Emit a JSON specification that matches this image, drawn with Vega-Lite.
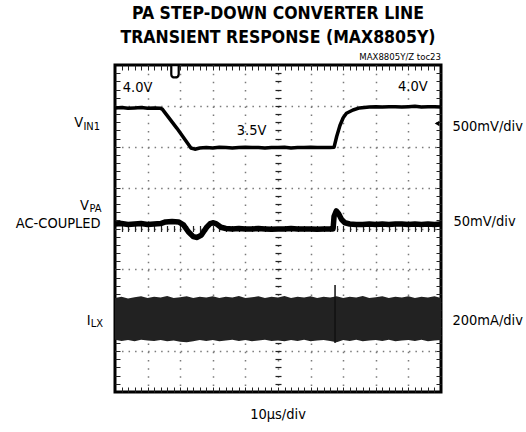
{
  "$schema": "https://vega.github.io/schema/vega-lite/v6.json",
  "width": 326,
  "height": 327,
  "autosize": "none",
  "padding": {"left": 115, "top": 65, "right": 85, "bottom": 40},
  "background": "white",
  "title": {
    "text": ["PA STEP-DOWN CONVERTER LINE", "TRANSIENT RESPONSE (MAX8805Y)"],
    "font": "DejaVu Sans Condensed, sans-serif",
    "fontSize": 17.5,
    "fontWeight": "bold",
    "lineHeight": 24,
    "anchor": "middle",
    "color": "black",
    "offset": 6
  },
  "config": {
    "view": {"stroke": "black", "strokeWidth": 3},
    "axis": {"domain": false, "labels": false, "title": null},
    "text": {"font": "DejaVu Sans Condensed, sans-serif", "color": "black"}
  },
  "datasets": {
    "traces": [
      {"trace": "VIN1", "time": 0.00, "level": 6.95},
      {"trace": "VIN1", "time": 0.20, "level": 6.96},
      {"trace": "VIN1", "time": 0.40, "level": 6.94},
      {"trace": "VIN1", "time": 0.60, "level": 6.95},
      {"trace": "VIN1", "time": 0.80, "level": 6.96},
      {"trace": "VIN1", "time": 1.00, "level": 6.94},
      {"trace": "VIN1", "time": 1.20, "level": 6.95},
      {"trace": "VIN1", "time": 1.40, "level": 6.94},
      {"trace": "VIN1", "time": 1.45, "level": 6.92},
      {"trace": "VIN1", "time": 1.90, "level": 6.45},
      {"trace": "VIN1", "time": 2.33, "level": 5.97},
      {"trace": "VIN1", "time": 2.45, "level": 5.94},
      {"trace": "VIN1", "time": 2.60, "level": 5.97},
      {"trace": "VIN1", "time": 2.80, "level": 5.98},
      {"trace": "VIN1", "time": 3.00, "level": 5.97},
      {"trace": "VIN1", "time": 3.20, "level": 5.99},
      {"trace": "VIN1", "time": 3.40, "level": 5.98},
      {"trace": "VIN1", "time": 3.60, "level": 5.97},
      {"trace": "VIN1", "time": 3.80, "level": 5.98},
      {"trace": "VIN1", "time": 4.00, "level": 5.99},
      {"trace": "VIN1", "time": 4.20, "level": 5.98},
      {"trace": "VIN1", "time": 4.40, "level": 5.98},
      {"trace": "VIN1", "time": 4.60, "level": 5.97},
      {"trace": "VIN1", "time": 4.80, "level": 5.98},
      {"trace": "VIN1", "time": 5.00, "level": 5.98},
      {"trace": "VIN1", "time": 5.20, "level": 5.99},
      {"trace": "VIN1", "time": 5.40, "level": 5.97},
      {"trace": "VIN1", "time": 5.60, "level": 5.98},
      {"trace": "VIN1", "time": 5.80, "level": 5.98},
      {"trace": "VIN1", "time": 6.00, "level": 5.99},
      {"trace": "VIN1", "time": 6.20, "level": 5.98},
      {"trace": "VIN1", "time": 6.40, "level": 5.98},
      {"trace": "VIN1", "time": 6.60, "level": 5.98},
      {"trace": "VIN1", "time": 6.72, "level": 5.99},
      {"trace": "VIN1", "time": 6.80, "level": 6.25},
      {"trace": "VIN1", "time": 6.90, "level": 6.52},
      {"trace": "VIN1", "time": 7.00, "level": 6.71},
      {"trace": "VIN1", "time": 7.10, "level": 6.82},
      {"trace": "VIN1", "time": 7.30, "level": 6.90},
      {"trace": "VIN1", "time": 7.50, "level": 6.95},
      {"trace": "VIN1", "time": 7.80, "level": 6.97},
      {"trace": "VIN1", "time": 8.00, "level": 6.98},
      {"trace": "VIN1", "time": 8.20, "level": 6.97},
      {"trace": "VIN1", "time": 8.40, "level": 6.98},
      {"trace": "VIN1", "time": 8.60, "level": 6.98},
      {"trace": "VIN1", "time": 8.80, "level": 6.97},
      {"trace": "VIN1", "time": 9.00, "level": 6.98},
      {"trace": "VIN1", "time": 9.20, "level": 6.99},
      {"trace": "VIN1", "time": 9.40, "level": 6.97},
      {"trace": "VIN1", "time": 9.60, "level": 6.98},
      {"trace": "VIN1", "time": 9.80, "level": 6.98},
      {"trace": "VIN1", "time": 10.00, "level": 6.97},
      {"trace": "VPA", "time": 0.00, "level": 4.11},
      {"trace": "VPA", "time": 0.20, "level": 4.12},
      {"trace": "VPA", "time": 0.40, "level": 4.10},
      {"trace": "VPA", "time": 0.60, "level": 4.11},
      {"trace": "VPA", "time": 0.80, "level": 4.12},
      {"trace": "VPA", "time": 1.00, "level": 4.10},
      {"trace": "VPA", "time": 1.20, "level": 4.11},
      {"trace": "VPA", "time": 1.40, "level": 4.12},
      {"trace": "VPA", "time": 1.55, "level": 4.16},
      {"trace": "VPA", "time": 1.75, "level": 4.17},
      {"trace": "VPA", "time": 1.95, "level": 4.16},
      {"trace": "VPA", "time": 2.10, "level": 4.09},
      {"trace": "VPA", "time": 2.25, "level": 3.92},
      {"trace": "VPA", "time": 2.40, "level": 3.80},
      {"trace": "VPA", "time": 2.52, "level": 3.78},
      {"trace": "VPA", "time": 2.65, "level": 3.84},
      {"trace": "VPA", "time": 2.80, "level": 4.02},
      {"trace": "VPA", "time": 2.92, "level": 4.12},
      {"trace": "VPA", "time": 3.00, "level": 4.14},
      {"trace": "VPA", "time": 3.10, "level": 4.12},
      {"trace": "VPA", "time": 3.25, "level": 4.03},
      {"trace": "VPA", "time": 3.40, "level": 4.00},
      {"trace": "VPA", "time": 3.60, "level": 3.99},
      {"trace": "VPA", "time": 3.80, "level": 4.00},
      {"trace": "VPA", "time": 4.00, "level": 3.99},
      {"trace": "VPA", "time": 4.20, "level": 3.99},
      {"trace": "VPA", "time": 4.40, "level": 4.00},
      {"trace": "VPA", "time": 4.60, "level": 3.99},
      {"trace": "VPA", "time": 4.80, "level": 3.98},
      {"trace": "VPA", "time": 5.00, "level": 3.99},
      {"trace": "VPA", "time": 5.20, "level": 3.99},
      {"trace": "VPA", "time": 5.40, "level": 4.00},
      {"trace": "VPA", "time": 5.60, "level": 3.99},
      {"trace": "VPA", "time": 5.80, "level": 3.99},
      {"trace": "VPA", "time": 6.00, "level": 3.99},
      {"trace": "VPA", "time": 6.20, "level": 3.98},
      {"trace": "VPA", "time": 6.40, "level": 3.99},
      {"trace": "VPA", "time": 6.60, "level": 3.99},
      {"trace": "VPA", "time": 6.69, "level": 3.99},
      {"trace": "VPA", "time": 6.72, "level": 4.30},
      {"trace": "VPA", "time": 6.79, "level": 4.43},
      {"trace": "VPA", "time": 6.86, "level": 4.36},
      {"trace": "VPA", "time": 6.95, "level": 4.22},
      {"trace": "VPA", "time": 7.05, "level": 4.14},
      {"trace": "VPA", "time": 7.20, "level": 4.11},
      {"trace": "VPA", "time": 7.40, "level": 4.10},
      {"trace": "VPA", "time": 7.60, "level": 4.10},
      {"trace": "VPA", "time": 7.80, "level": 4.11},
      {"trace": "VPA", "time": 8.00, "level": 4.10},
      {"trace": "VPA", "time": 8.20, "level": 4.11},
      {"trace": "VPA", "time": 8.40, "level": 4.10},
      {"trace": "VPA", "time": 8.60, "level": 4.11},
      {"trace": "VPA", "time": 8.80, "level": 4.11},
      {"trace": "VPA", "time": 9.00, "level": 4.10},
      {"trace": "VPA", "time": 9.20, "level": 4.11},
      {"trace": "VPA", "time": 9.40, "level": 4.10},
      {"trace": "VPA", "time": 9.60, "level": 4.11},
      {"trace": "VPA", "time": 9.80, "level": 4.10},
      {"trace": "VPA", "time": 10.00, "level": 4.11}
    ],
    "ilx": [
      {"time": 0.0, "hi": 2.30, "lo": 1.28},
      {"time": 0.2, "hi": 2.33, "lo": 1.25},
      {"time": 0.4, "hi": 2.29, "lo": 1.27},
      {"time": 0.6, "hi": 2.32, "lo": 1.24},
      {"time": 0.8, "hi": 2.34, "lo": 1.28},
      {"time": 1.0, "hi": 2.30, "lo": 1.26},
      {"time": 1.2, "hi": 2.33, "lo": 1.25},
      {"time": 1.4, "hi": 2.31, "lo": 1.27},
      {"time": 1.6, "hi": 2.35, "lo": 1.24},
      {"time": 1.8, "hi": 2.30, "lo": 1.26},
      {"time": 2.0, "hi": 2.32, "lo": 1.23},
      {"time": 2.2, "hi": 2.34, "lo": 1.22},
      {"time": 2.4, "hi": 2.30, "lo": 1.24},
      {"time": 2.6, "hi": 2.33, "lo": 1.27},
      {"time": 2.8, "hi": 2.31, "lo": 1.25},
      {"time": 3.0, "hi": 2.34, "lo": 1.27},
      {"time": 3.2, "hi": 2.30, "lo": 1.24},
      {"time": 3.4, "hi": 2.33, "lo": 1.26},
      {"time": 3.6, "hi": 2.31, "lo": 1.28},
      {"time": 3.8, "hi": 2.35, "lo": 1.25},
      {"time": 4.0, "hi": 2.30, "lo": 1.27},
      {"time": 4.2, "hi": 2.32, "lo": 1.24},
      {"time": 4.4, "hi": 2.34, "lo": 1.26},
      {"time": 4.6, "hi": 2.30, "lo": 1.28},
      {"time": 4.8, "hi": 2.33, "lo": 1.25},
      {"time": 5.0, "hi": 2.31, "lo": 1.26},
      {"time": 5.2, "hi": 2.35, "lo": 1.24},
      {"time": 5.4, "hi": 2.30, "lo": 1.27},
      {"time": 5.6, "hi": 2.33, "lo": 1.25},
      {"time": 5.8, "hi": 2.31, "lo": 1.28},
      {"time": 6.0, "hi": 2.34, "lo": 1.24},
      {"time": 6.2, "hi": 2.30, "lo": 1.26},
      {"time": 6.4, "hi": 2.33, "lo": 1.27},
      {"time": 6.6, "hi": 2.31, "lo": 1.25},
      {"time": 6.8, "hi": 2.34, "lo": 1.22},
      {"time": 7.0, "hi": 2.30, "lo": 1.27},
      {"time": 7.2, "hi": 2.33, "lo": 1.25},
      {"time": 7.4, "hi": 2.31, "lo": 1.28},
      {"time": 7.6, "hi": 2.35, "lo": 1.24},
      {"time": 7.8, "hi": 2.30, "lo": 1.26},
      {"time": 8.0, "hi": 2.32, "lo": 1.27},
      {"time": 8.2, "hi": 2.34, "lo": 1.25},
      {"time": 8.4, "hi": 2.30, "lo": 1.28},
      {"time": 8.6, "hi": 2.33, "lo": 1.24},
      {"time": 8.8, "hi": 2.31, "lo": 1.26},
      {"time": 9.0, "hi": 2.34, "lo": 1.27},
      {"time": 9.2, "hi": 2.30, "lo": 1.25},
      {"time": 9.4, "hi": 2.33, "lo": 1.28},
      {"time": 9.6, "hi": 2.31, "lo": 1.24},
      {"time": 9.8, "hi": 2.34, "lo": 1.26},
      {"time": 10.0, "hi": 2.30, "lo": 1.27}
    ],
    "spikes": [
      {"time": 6.75, "hi": 2.62, "lo": 1.20}
    ],
    "labels": [
      {"kind": "left", "text": "V", "time": -0.98, "level": 6.49},
      {"kind": "left", "text": "V", "time": -0.80, "level": 4.46},
      {"kind": "left", "text": "AC-COUPLED", "time": -0.44, "level": 4.01},
      {"kind": "left", "text": "I", "time": -0.75, "level": 1.65},
      {"kind": "sub", "text": "IN1", "time": -0.46, "level": 6.42},
      {"kind": "sub", "text": "PA", "time": -0.41, "level": 4.41},
      {"kind": "sub", "text": "LX", "time": -0.37, "level": 1.58},
      {"kind": "right", "text": "500mV/div", "time": 10.35, "level": 6.39},
      {"kind": "right", "text": "50mV/div", "time": 10.38, "level": 4.07},
      {"kind": "right", "text": "200mA/div", "time": 10.35, "level": 1.65},
      {"kind": "right", "text": "4.0V", "time": 0.24, "level": 7.34},
      {"kind": "left", "text": "4.0V", "time": 9.59, "level": 7.36},
      {"kind": "center", "text": "3.5V", "time": 4.19, "level": 6.29},
      {"kind": "center", "text": "10µs/div", "time": 5.0, "level": -0.66},
      {"kind": "note", "text": "MAX8805Y/Z toc23", "time": 10.0, "level": 8.12}
    ],
    "markers": [
      {"kind": "trigger", "time": 1.84, "level": 7.84},
      {"kind": "ground", "time": 9.88, "level": 6.57}
    ]
  },
  "resolve": {"axis": {"x": "independent", "y": "independent"}},
  "layer": [
    {
      "data": {"name": "traces"},
      "transform": [{"filter": "datum.trace === 'VIN1'"}],
      "mark": {"type": "line", "color": "black", "strokeWidth": 3.5, "strokeJoin": "round"},
      "encoding": {
        "x": {"field": "time", "type": "quantitative", "scale": {"domain": [0, 10], "nice": false},
          "axis": {"orient": "bottom", "values": [1, 2, 3, 4, 5, 6, 7, 8, 9], "grid": true, "gridDash": [1.5, 6.68], "gridColor": "#7a7a7a", "gridWidth": 1.5, "ticks": false, "labels": false, "domain": false, "title": null}},
        "y": {"field": "level", "type": "quantitative", "scale": {"domain": [0, 8], "nice": false},
          "axis": {"orient": "left", "values": [1, 2, 3, 4, 5, 6, 7], "grid": true, "gridDash": [1.5, 5.02], "gridColor": "#7a7a7a", "gridWidth": 1.5, "ticks": false, "labels": false, "domain": false, "title": null}}
      }
    },
    {
      "data": {"name": "traces"},
      "transform": [{"filter": "datum.trace === 'VPA'"}],
      "mark": {"type": "line", "color": "black", "strokeWidth": 5.5, "strokeJoin": "round"},
      "encoding": {
        "x": {"field": "time", "type": "quantitative", "scale": {"domain": [0, 10], "nice": false},
          "axis": {"orient": "bottom", "values": [0.2, 0.4, 0.6, 0.8, 1.2, 1.4, 1.6, 1.8, 2.2, 2.4, 2.6, 2.8, 3.2, 3.4, 3.6, 3.8, 4.2, 4.4, 4.6, 4.8, 5.2, 5.4, 5.6, 5.8, 6.2, 6.4, 6.6, 6.8, 7.2, 7.4, 7.6, 7.8, 8.2, 8.4, 8.6, 8.8, 9.2, 9.4, 9.6, 9.8, 1, 2, 3, 4, 5, 6, 7, 8, 9], "tickSize": -5, "tickColor": "#222", "tickWidth": 1, "grid": false, "labels": false, "domain": false, "title": null}},
        "y": {"field": "level", "type": "quantitative", "scale": {"domain": [0, 8], "nice": false},
          "axis": {"orient": "left", "values": [0.2, 0.4, 0.6, 0.8, 1.2, 1.4, 1.6, 1.8, 2.2, 2.4, 2.6, 2.8, 3.2, 3.4, 3.6, 3.8, 4.2, 4.4, 4.6, 4.8, 5.2, 5.4, 5.6, 5.8, 6.2, 6.4, 6.6, 6.8, 7.2, 7.4, 7.6, 7.8, 1, 2, 3, 4, 5, 6, 7], "tickSize": -5, "tickColor": "#222", "tickWidth": 1, "grid": false, "labels": false, "domain": false, "title": null}}
      }
    },
    {
      "data": {"name": "ilx"},
      "mark": {"type": "area", "color": "#222222", "interpolate": "linear"},
      "encoding": {
        "x": {"field": "time", "type": "quantitative", "scale": {"domain": [0, 10], "nice": false},
          "axis": {"orient": "top", "values": [0.2, 0.4, 0.6, 0.8, 1.2, 1.4, 1.6, 1.8, 2.2, 2.4, 2.6, 2.8, 3.2, 3.4, 3.6, 3.8, 4.2, 4.4, 4.6, 4.8, 5.2, 5.4, 5.6, 5.8, 6.2, 6.4, 6.6, 6.8, 7.2, 7.4, 7.6, 7.8, 8.2, 8.4, 8.6, 8.8, 9.2, 9.4, 9.6, 9.8, 1, 2, 3, 4, 5, 6, 7, 8, 9], "tickSize": -5, "tickColor": "#222", "tickWidth": 1, "grid": false, "labels": false, "domain": false, "title": null}},
        "y": {"field": "hi", "type": "quantitative", "scale": {"domain": [0, 8], "nice": false},
          "axis": {"orient": "right", "values": [0.2, 0.4, 0.6, 0.8, 1.2, 1.4, 1.6, 1.8, 2.2, 2.4, 2.6, 2.8, 3.2, 3.4, 3.6, 3.8, 4.2, 4.4, 4.6, 4.8, 5.2, 5.4, 5.6, 5.8, 6.2, 6.4, 6.6, 6.8, 7.2, 7.4, 7.6, 7.8, 1, 2, 3, 4, 5, 6, 7], "tickSize": -5, "tickColor": "#222", "tickWidth": 1, "grid": false, "labels": false, "domain": false, "title": null}},
        "y2": {"field": "lo"}
      }
    },
    {
      "data": {"name": "spikes"},
      "mark": {"type": "rule", "color": "#111", "strokeWidth": 1.5},
      "encoding": {
        "x": {"field": "time", "type": "quantitative", "scale": {"domain": [0, 10], "nice": false},
          "axis": {"orient": "bottom", "offset": -166.5, "values": [0.2, 0.4, 0.6, 0.8, 1.2, 1.4, 1.6, 1.8, 2.2, 2.4, 2.6, 2.8, 3.2, 3.4, 3.6, 3.8, 4.2, 4.4, 4.6, 4.8, 5.2, 5.4, 5.6, 5.8, 6.2, 6.4, 6.6, 6.8, 7.2, 7.4, 7.6, 7.8, 8.2, 8.4, 8.6, 8.8, 9.2, 9.4, 9.6, 9.8, 1, 2, 3, 4, 6, 7, 8, 9], "tickSize": 6, "tickColor": "#222", "tickWidth": 1.2, "grid": false, "labels": false, "domain": false, "title": null}},
        "y": {"field": "hi", "type": "quantitative", "scale": {"domain": [0, 8], "nice": false},
          "axis": {"orient": "left", "offset": -166, "values": [0.2, 0.4, 0.6, 0.8, 1.2, 1.4, 1.6, 1.8, 2.2, 2.4, 2.6, 2.8, 3.2, 3.4, 3.6, 3.8, 4.2, 4.4, 4.6, 4.8, 5.2, 5.4, 5.6, 5.8, 6.2, 6.4, 6.6, 6.8, 7.2, 7.4, 7.6, 7.8, 1, 2, 3, 5, 6, 7], "tickSize": 6, "tickColor": "#222", "tickWidth": 1.2, "grid": false, "labels": false, "domain": false, "title": null}},
        "y2": {"field": "lo"}
      }
    },
    {
      "mark": {"type": "rule", "color": "#444", "strokeWidth": 1},
      "encoding": {
        "y": {"datum": 4, "type": "quantitative", "axis": null}
      }
    },
    {
      "data": {"name": "markers"},
      "transform": [{"filter": "datum.kind === 'trigger'"}],
      "mark": {"type": "point", "shape": "M-1,-1.7L1,-1.7L1,0.7Q1,1.6 0,1.6Q-1,1.6 -1,0.7Z", "size": 55, "filled": true, "fill": "white", "stroke": "black", "strokeWidth": 2.2, "opacity": 1},
      "encoding": {
        "x": {"field": "time", "type": "quantitative", "axis": null},
        "y": {"field": "level", "type": "quantitative", "axis": null}
      }
    },
    {
      "data": {"name": "markers"},
      "transform": [{"filter": "datum.kind === 'ground'"}],
      "mark": {"type": "point", "shape": "triangle-left", "size": 30, "filled": true, "color": "black", "opacity": 1},
      "encoding": {
        "x": {"field": "time", "type": "quantitative", "axis": null},
        "y": {"field": "level", "type": "quantitative", "axis": null}
      }
    },
    {
      "data": {"name": "labels"},
      "transform": [{"filter": "datum.kind === 'left'"}],
      "mark": {"type": "text", "align": "right", "baseline": "alphabetic", "fontSize": 14.5},
      "encoding": {
        "x": {"field": "time", "type": "quantitative", "axis": null},
        "y": {"field": "level", "type": "quantitative", "axis": null},
        "text": {"field": "text"}
      }
    },
    {
      "data": {"name": "labels"},
      "transform": [{"filter": "datum.kind === 'sub'"}],
      "mark": {"type": "text", "align": "right", "baseline": "alphabetic", "fontSize": 11},
      "encoding": {
        "x": {"field": "time", "type": "quantitative", "axis": null},
        "y": {"field": "level", "type": "quantitative", "axis": null},
        "text": {"field": "text"}
      }
    },
    {
      "data": {"name": "labels"},
      "transform": [{"filter": "datum.kind === 'right'"}],
      "mark": {"type": "text", "align": "left", "baseline": "alphabetic", "fontSize": 14.5},
      "encoding": {
        "x": {"field": "time", "type": "quantitative", "axis": null},
        "y": {"field": "level", "type": "quantitative", "axis": null},
        "text": {"field": "text"}
      }
    },
    {
      "data": {"name": "labels"},
      "transform": [{"filter": "datum.kind === 'center'"}],
      "mark": {"type": "text", "align": "center", "baseline": "alphabetic", "fontSize": 14.5},
      "encoding": {
        "x": {"field": "time", "type": "quantitative", "axis": null},
        "y": {"field": "level", "type": "quantitative", "axis": null},
        "text": {"field": "text"}
      }
    },
    {
      "data": {"name": "labels"},
      "transform": [{"filter": "datum.kind === 'note'"}],
      "mark": {"type": "text", "align": "right", "baseline": "alphabetic", "fontSize": 9.5},
      "encoding": {
        "x": {"field": "time", "type": "quantitative", "axis": null},
        "y": {"field": "level", "type": "quantitative", "axis": null},
        "text": {"field": "text"}
      }
    }
  ]
}
